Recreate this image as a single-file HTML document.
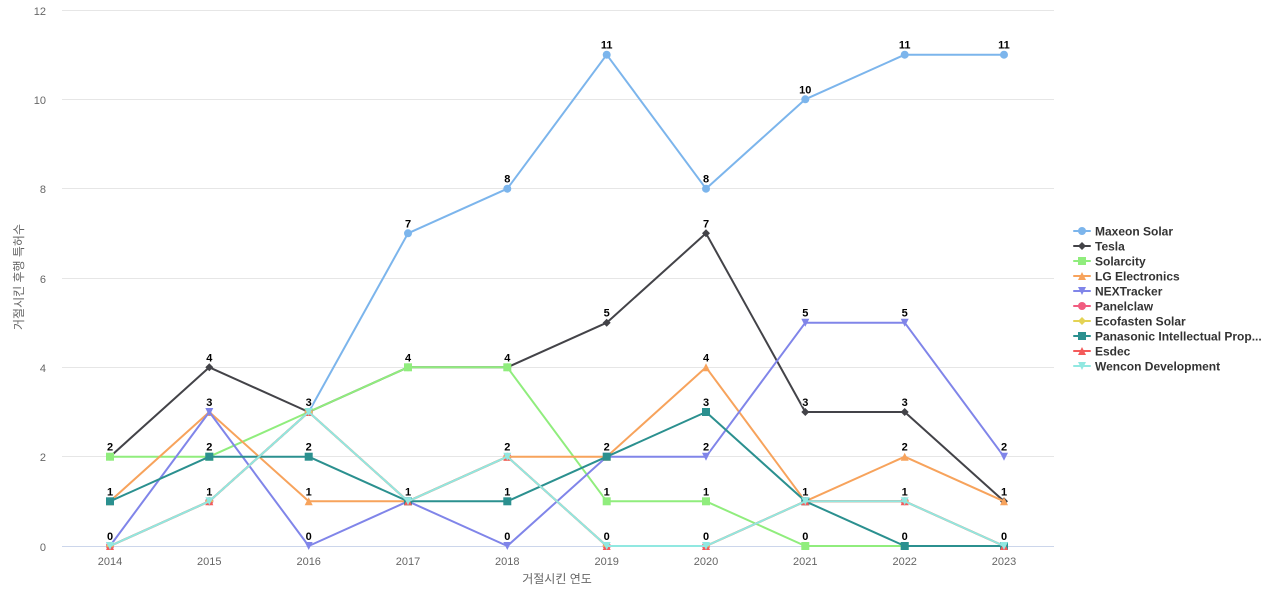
<!DOCTYPE html>
<html><head><meta charset="utf-8">
<style>
html,body{margin:0;padding:0;background:#fff;}
svg{display:block;}
.ax{font-family:"Liberation Sans","Noto Sans CJK KR",sans-serif;font-size:11px;fill:#666666;}
.tt{font-family:"Liberation Sans","Noto Sans CJK KR",sans-serif;font-size:12px;fill:#666666;}
.dl{font-family:"Liberation Sans",sans-serif;font-size:11px;font-weight:bold;fill:#000;stroke:#fff;stroke-width:2px;stroke-linejoin:round;paint-order:stroke;text-anchor:middle;}
.lg{font-family:"Liberation Sans",sans-serif;font-size:12px;font-weight:bold;fill:#333333;}
.s{fill:none;stroke-width:2;stroke-linejoin:round;stroke-linecap:round;}
</style></head>
<body>
<svg width="1280" height="600" viewBox="0 0 1280 600" xmlns="http://www.w3.org/2000/svg">
<defs>
<marker id="m0" markerUnits="userSpaceOnUse" markerWidth="12" markerHeight="12" viewBox="-6 -6 12 12" refX="0" refY="0" overflow="visible"><circle r="4" fill="#7cb5ec"/></marker>
<marker id="m1" markerUnits="userSpaceOnUse" markerWidth="12" markerHeight="12" viewBox="-6 -6 12 12" refX="0" refY="0" overflow="visible"><path d="M0,-4 L4,0 L0,4 L-4,0Z" fill="#434348"/></marker>
<marker id="m2" markerUnits="userSpaceOnUse" markerWidth="12" markerHeight="12" viewBox="-6 -6 12 12" refX="0" refY="0" overflow="visible"><rect x="-4" y="-4" width="8" height="8" fill="#90ed7d"/></marker>
<marker id="m3" markerUnits="userSpaceOnUse" markerWidth="12" markerHeight="12" viewBox="-6 -6 12 12" refX="0" refY="0" overflow="visible"><path d="M0,-4 L4,4 L-4,4Z" fill="#f7a35c"/></marker>
<marker id="m4" markerUnits="userSpaceOnUse" markerWidth="12" markerHeight="12" viewBox="-6 -6 12 12" refX="0" refY="0" overflow="visible"><path d="M-4,-4 L4,-4 L0,4Z" fill="#8085e9"/></marker>
<marker id="m5" markerUnits="userSpaceOnUse" markerWidth="12" markerHeight="12" viewBox="-6 -6 12 12" refX="0" refY="0" overflow="visible"><circle r="4" fill="#f15c80"/></marker>
<marker id="m6" markerUnits="userSpaceOnUse" markerWidth="12" markerHeight="12" viewBox="-6 -6 12 12" refX="0" refY="0" overflow="visible"><path d="M0,-4 L4,0 L0,4 L-4,0Z" fill="#e4d354"/></marker>
<marker id="m7" markerUnits="userSpaceOnUse" markerWidth="12" markerHeight="12" viewBox="-6 -6 12 12" refX="0" refY="0" overflow="visible"><rect x="-4" y="-4" width="8" height="8" fill="#2b908f"/></marker>
<marker id="m8" markerUnits="userSpaceOnUse" markerWidth="12" markerHeight="12" viewBox="-6 -6 12 12" refX="0" refY="0" overflow="visible"><path d="M0,-4 L4,4 L-4,4Z" fill="#f45b5b"/></marker>
<marker id="m9" markerUnits="userSpaceOnUse" markerWidth="12" markerHeight="12" viewBox="-6 -6 12 12" refX="0" refY="0" overflow="visible"><path d="M-4,-4 L4,-4 L0,4Z" fill="#91e8e1"/></marker>
</defs>

<!-- grid -->
<g stroke="#e6e6e6" stroke-width="1">
<line x1="62" y1="10.5" x2="1054" y2="10.5"/>
<line x1="62" y1="99.5" x2="1054" y2="99.5"/>
<line x1="62" y1="188.5" x2="1054" y2="188.5"/>
<line x1="62" y1="278.5" x2="1054" y2="278.5"/>
<line x1="62" y1="367.5" x2="1054" y2="367.5"/>
<line x1="62" y1="456.5" x2="1054" y2="456.5"/>
</g>
<line x1="62" y1="546.5" x2="1054" y2="546.5" stroke="#ccd6eb" stroke-width="1"/>

<!-- y labels -->
<g class="ax" text-anchor="end">
<text x="46" y="15">12</text>
<text x="46" y="104">10</text>
<text x="46" y="193">8</text>
<text x="46" y="283">6</text>
<text x="46" y="372">4</text>
<text x="46" y="461">2</text>
<text x="46" y="551">0</text>
</g>
<!-- x labels -->
<g class="ax" text-anchor="middle">
<text x="110" y="565">2014</text>
<text x="209.3" y="565">2015</text>
<text x="308.7" y="565">2016</text>
<text x="408" y="565">2017</text>
<text x="507.3" y="565">2018</text>
<text x="606.7" y="565">2019</text>
<text x="706" y="565">2020</text>
<text x="805.3" y="565">2021</text>
<text x="904.7" y="565">2022</text>
<text x="1004" y="565">2023</text>
</g>
<text class="tt" x="557" y="583" text-anchor="middle">거절시킨 연도</text>
<text class="tt" x="0" y="0" text-anchor="middle" transform="translate(23,277) rotate(-90)">거절시킨 후행 특허수</text>

<!-- series -->
<polyline class="s" stroke="#7cb5ec" marker-start="url(#m0)" marker-mid="url(#m0)" marker-end="url(#m0)" points="110,546 209.3,501.3 308.7,412 408,233.3 507.3,188.7 606.7,54.7 706,188.7 805.3,99.3 904.7,54.7 1004,54.7"/>
<polyline class="s" stroke="#434348" marker-start="url(#m1)" marker-mid="url(#m1)" marker-end="url(#m1)" points="110,456.7 209.3,367.3 308.7,412 408,367.3 507.3,367.3 606.7,322.7 706,233.3 805.3,412 904.7,412 1004,501.3"/>
<polyline class="s" stroke="#90ed7d" marker-start="url(#m2)" marker-mid="url(#m2)" marker-end="url(#m2)" points="110,456.7 209.3,456.7 308.7,412 408,367.3 507.3,367.3 606.7,501.3 706,501.3 805.3,546 904.7,546 1004,546"/>
<polyline class="s" stroke="#f7a35c" marker-start="url(#m3)" marker-mid="url(#m3)" marker-end="url(#m3)" points="110,501.3 209.3,412 308.7,501.3 408,501.3 507.3,456.7 606.7,456.7 706,367.3 805.3,501.3 904.7,456.7 1004,501.3"/>
<polyline class="s" stroke="#8085e9" marker-start="url(#m4)" marker-mid="url(#m4)" marker-end="url(#m4)" points="110,546 209.3,412 308.7,546 408,501.3 507.3,546 606.7,456.7 706,456.7 805.3,322.7 904.7,322.7 1004,456.7"/>
<polyline class="s" stroke="#f15c80" marker-start="url(#m5)" marker-mid="url(#m5)" marker-end="url(#m5)" points="110,546 209.3,501.3 308.7,412 408,501.3 507.3,456.7 606.7,546 706,546 805.3,501.3 904.7,501.3 1004,546"/>
<polyline class="s" stroke="#e4d354" marker-start="url(#m6)" marker-mid="url(#m6)" marker-end="url(#m6)" points="110,546 209.3,501.3 308.7,412 408,501.3 507.3,456.7 606.7,546 706,546 805.3,501.3 904.7,501.3 1004,546"/>
<polyline class="s" stroke="#2b908f" marker-start="url(#m7)" marker-mid="url(#m7)" marker-end="url(#m7)" points="110,501.3 209.3,456.7 308.7,456.7 408,501.3 507.3,501.3 606.7,456.7 706,412 805.3,501.3 904.7,546 1004,546"/>
<polyline class="s" stroke="#f45b5b" marker-start="url(#m8)" marker-mid="url(#m8)" marker-end="url(#m8)" points="110,546 209.3,501.3 308.7,412 408,501.3 507.3,456.7 606.7,546 706,546 805.3,501.3 904.7,501.3 1004,546"/>
<polyline class="s" stroke="#91e8e1" marker-start="url(#m9)" marker-mid="url(#m9)" marker-end="url(#m9)" points="110,546 209.3,501.3 308.7,412 408,501.3 507.3,456.7 606.7,546 706,546 805.3,501.3 904.7,501.3 1004,546"/>

<!-- data labels -->
<g class="dl">
<text x="110" y="450.7">2</text><text x="110" y="495.3">1</text><text x="110" y="540">0</text>
<text x="209.3" y="361.3">4</text><text x="209.3" y="406">3</text><text x="209.3" y="450.7">2</text><text x="209.3" y="495.3">1</text>
<text x="308.7" y="406">3</text><text x="308.7" y="450.7">2</text><text x="308.7" y="495.3">1</text><text x="308.7" y="540">0</text>
<text x="408" y="227.3">7</text><text x="408" y="361.3">4</text><text x="408" y="495.3">1</text>
<text x="507.3" y="182.7">8</text><text x="507.3" y="361.3">4</text><text x="507.3" y="450.7">2</text><text x="507.3" y="495.3">1</text><text x="507.3" y="540">0</text>
<text x="606.7" y="48.7">11</text><text x="606.7" y="316.7">5</text><text x="606.7" y="450.7">2</text><text x="606.7" y="495.3">1</text><text x="606.7" y="540">0</text>
<text x="706" y="182.7">8</text><text x="706" y="227.3">7</text><text x="706" y="361.3">4</text><text x="706" y="406">3</text><text x="706" y="450.7">2</text><text x="706" y="495.3">1</text><text x="706" y="540">0</text>
<text x="805.3" y="93.3">10</text><text x="805.3" y="316.7">5</text><text x="805.3" y="406">3</text><text x="805.3" y="495.3">1</text><text x="805.3" y="540">0</text>
<text x="904.7" y="48.7">11</text><text x="904.7" y="316.7">5</text><text x="904.7" y="406">3</text><text x="904.7" y="450.7">2</text><text x="904.7" y="495.3">1</text><text x="904.7" y="540">0</text>
<text x="1004" y="48.7">11</text><text x="1004" y="450.7">2</text><text x="1004" y="495.3">1</text><text x="1004" y="540">0</text>
</g>

<!-- legend -->
<g>
<polyline class="s" stroke="#7cb5ec" marker-mid="url(#m0)" points="1074,231 1082,231 1090,231"/>
<polyline class="s" stroke="#434348" marker-mid="url(#m1)" points="1074,246 1082,246 1090,246"/>
<polyline class="s" stroke="#90ed7d" marker-mid="url(#m2)" points="1074,261 1082,261 1090,261"/>
<polyline class="s" stroke="#f7a35c" marker-mid="url(#m3)" points="1074,276 1082,276 1090,276"/>
<polyline class="s" stroke="#8085e9" marker-mid="url(#m4)" points="1074,291 1082,291 1090,291"/>
<polyline class="s" stroke="#f15c80" marker-mid="url(#m5)" points="1074,306 1082,306 1090,306"/>
<polyline class="s" stroke="#e4d354" marker-mid="url(#m6)" points="1074,321 1082,321 1090,321"/>
<polyline class="s" stroke="#2b908f" marker-mid="url(#m7)" points="1074,336 1082,336 1090,336"/>
<polyline class="s" stroke="#f45b5b" marker-mid="url(#m8)" points="1074,351 1082,351 1090,351"/>
<polyline class="s" stroke="#91e8e1" marker-mid="url(#m9)" points="1074,366 1082,366 1090,366"/>
</g>
<g class="lg">
<text x="1095" y="235.5">Maxeon Solar</text>
<text x="1095" y="250.5">Tesla</text>
<text x="1095" y="265.5">Solarcity</text>
<text x="1095" y="280.5">LG Electronics</text>
<text x="1095" y="295.5">NEXTracker</text>
<text x="1095" y="310.5">Panelclaw</text>
<text x="1095" y="325.5">Ecofasten Solar</text>
<text x="1095" y="340.5">Panasonic Intellectual Prop...</text>
<text x="1095" y="355.5">Esdec</text>
<text x="1095" y="370.5">Wencon Development</text>
</g>
</svg>
</body></html>
